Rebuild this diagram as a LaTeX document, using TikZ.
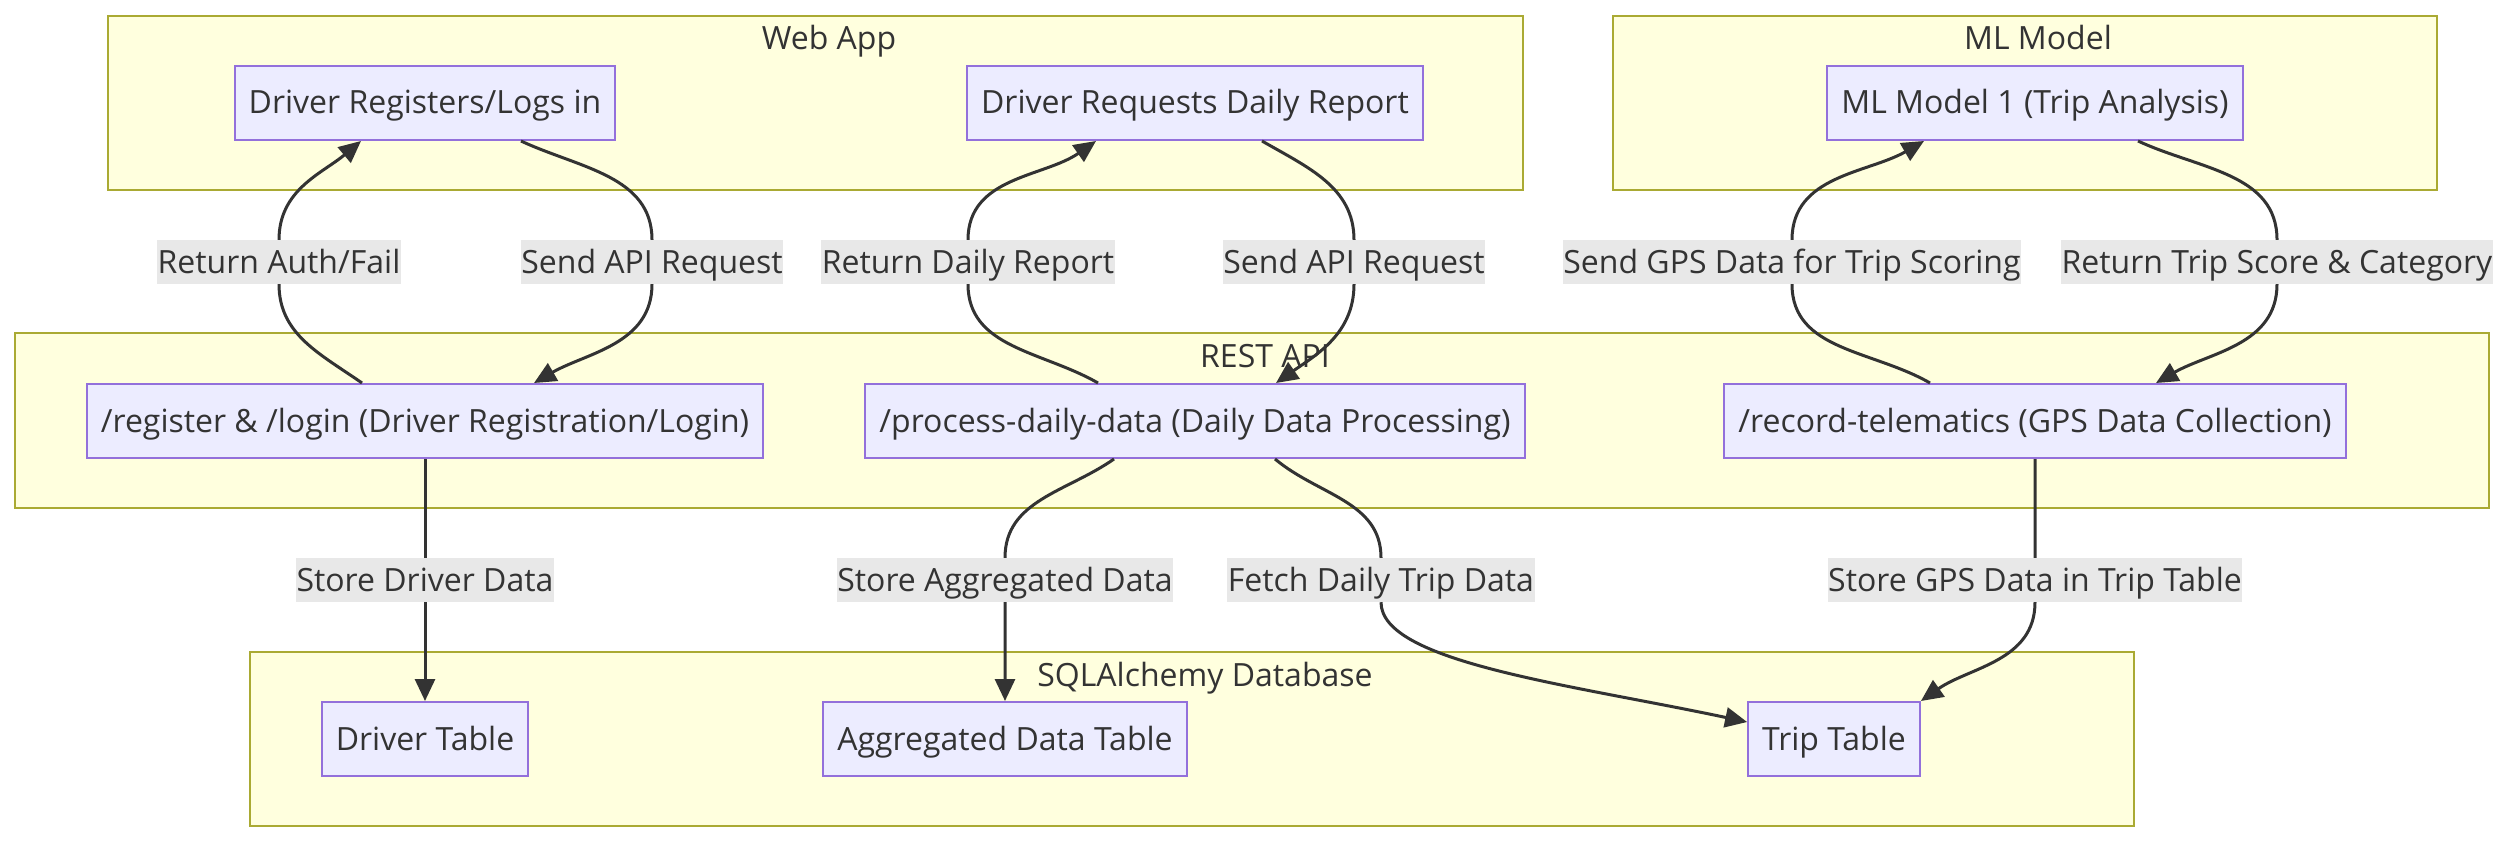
\documentclass[tikz,border=0pt]{standalone}
\usepackage{fontspec}
\setmainfont{Open Sans}
\usetikzlibrary{arrows.meta}

\definecolor{clfill}{HTML}{FFFFDE}
\definecolor{cldraw}{HTML}{AAAA33}
\definecolor{ndfill}{HTML}{ECECFF}
\definecolor{nddraw}{HTML}{9370DB}
\definecolor{lbfill}{HTML}{E8E8E8}
\definecolor{ink}{HTML}{333333}

\tikzstyle{cluster} = [draw=cldraw, fill=clfill, line width=2pt]
\tikzstyle{title} = [text=ink, inner sep=0pt, anchor=base]
\tikzstyle{nd} = [rectangle, draw=nddraw, fill=ndfill, line width=2pt, minimum height=74pt, inner xsep=14pt, text height=30pt, text depth=8pt, text=ink]
\tikzstyle{lbl} = [fill=lbfill, text=ink, inner xsep=0.5pt, inner ysep=0pt, minimum height=44pt, text height=30pt, text depth=8pt]
\tikzstyle{flow} = [draw=ink, line width=3pt, -{Triangle[length=22pt,width=20pt]}]
\tikzstyle{every node}=[font=\fontsize{32}{39}\selectfont]

\begin{document}
\begin{tikzpicture}[x=1pt, y=-1pt]
\useasboundingbox (0,0) rectangle (2510,842);
% subgraphs
\draw[cluster] (108,16) rectangle (1523,190);
\draw[cluster] (1613,16) rectangle (2437,190);
\draw[cluster] (15,333) rectangle (2489,508);
\draw[cluster] (250,652) rectangle (2134,826);
\node[title] (webapp) at (829,50) {Web App};
\node[title] (mlmodel) at (2038,50) {ML Model};
\node[title] (restapi) at (1265,367) {REST API};
\node[title] (sqldb) at (1205,686) {SQLAlchemy Database};

% web app / ml model
\node[nd] (n1) at (425,103) {Driver Registers/Logs in};
\node[nd] (n2) at (1195,103) {Driver Requests Daily Report};
\node[nd] (n3) at (2035,103) {ML Model 1 (Trip Analysis)};
% rest api
\node[nd] (n4) at (425,421) {/register \& /login (Driver Registration/Login)};
\node[nd] (n5) at (1195,421) {/process-daily-data (Daily Data Processing)};
\node[nd] (n6) at (2035,421) {/record-telematics (GPS Data Collection)};
% database
\node[nd] (n7) at (425,739) {Driver Table};
\node[nd] (n8) at (1005,739) {Aggregated Data Table};
\node[nd] (n9) at (1834,739) {Trip Table};

% edge labels
\node[lbl] (t1) at (279,262) {Return Auth/Fail};
\node[lbl] (t2) at (652,262) {Send API Request};
\node[lbl] (t3) at (968,262) {Return Daily Report};
\node[lbl] (t4) at (1354,262) {Send API Request};
\node[lbl] (t5) at (1792,262) {Send GPS Data for Trip Scoring};
\node[lbl] (t6) at (2277,262) {Return Trip Score \& Category};
\node[lbl] (t7) at (425,580) {Store Driver Data};
\node[lbl] (t8) at (1005,580) {Store Aggregated Data};
\node[lbl] (t9) at (1381,580) {Fetch Daily Trip Data};
\node[lbl] (t10) at (2035,580) {Store GPS Data in Trip Table};

% edges
\draw[flow] ([xshift=-63pt]n4.north) to[out=145,in=-90] (t1.south) (t1.north) to[out=90,in=-140] ([xshift=-64pt]n1.south);
\draw[flow] ([xshift=96pt]n1.south) to[out=-25,in=90] (t2.north) (t2.south) to[out=-90,in=30] ([xshift=109pt]n4.north);
\draw[flow] ([xshift=-97pt]n5.north) to[out=150,in=-90] (t3.south) (t3.north) to[out=90,in=-145] ([xshift=-99pt]n2.south);
\draw[flow] ([xshift=67pt]n2.south) to[out=-30,in=90] (t4.north) (t4.south) to[out=-90,in=35] ([xshift=81pt]n5.north);
\draw[flow] ([xshift=-105pt]n6.north) to[out=150,in=-90] (t5.south) (t5.north) to[out=90,in=-150] ([xshift=-111pt]n3.south);
\draw[flow] ([xshift=103pt]n3.south) to[out=-25,in=90] (t6.north) (t6.south) to[out=-90,in=30] ([xshift=121pt]n6.north);
\draw[flow] (n4.south) -- (t7.north) (t7.south) -- (n7.north);
\draw[flow] ([xshift=-81pt]n5.south) to[out=-145,in=90] (t8.north) (t8.south) -- (n8.north);
\draw[flow] ([xshift=80pt]n5.south) to[out=-40,in=90] (t9.north) (t9.south) to[out=-90,in=168,out looseness=0.4,in looseness=1.2] ([yshift=17pt]n9.west);
\draw[flow] (n6.south) -- (t10.north) (t10.south) to[out=-90,in=35] (n9.north east);
\end{tikzpicture}
\end{document}
